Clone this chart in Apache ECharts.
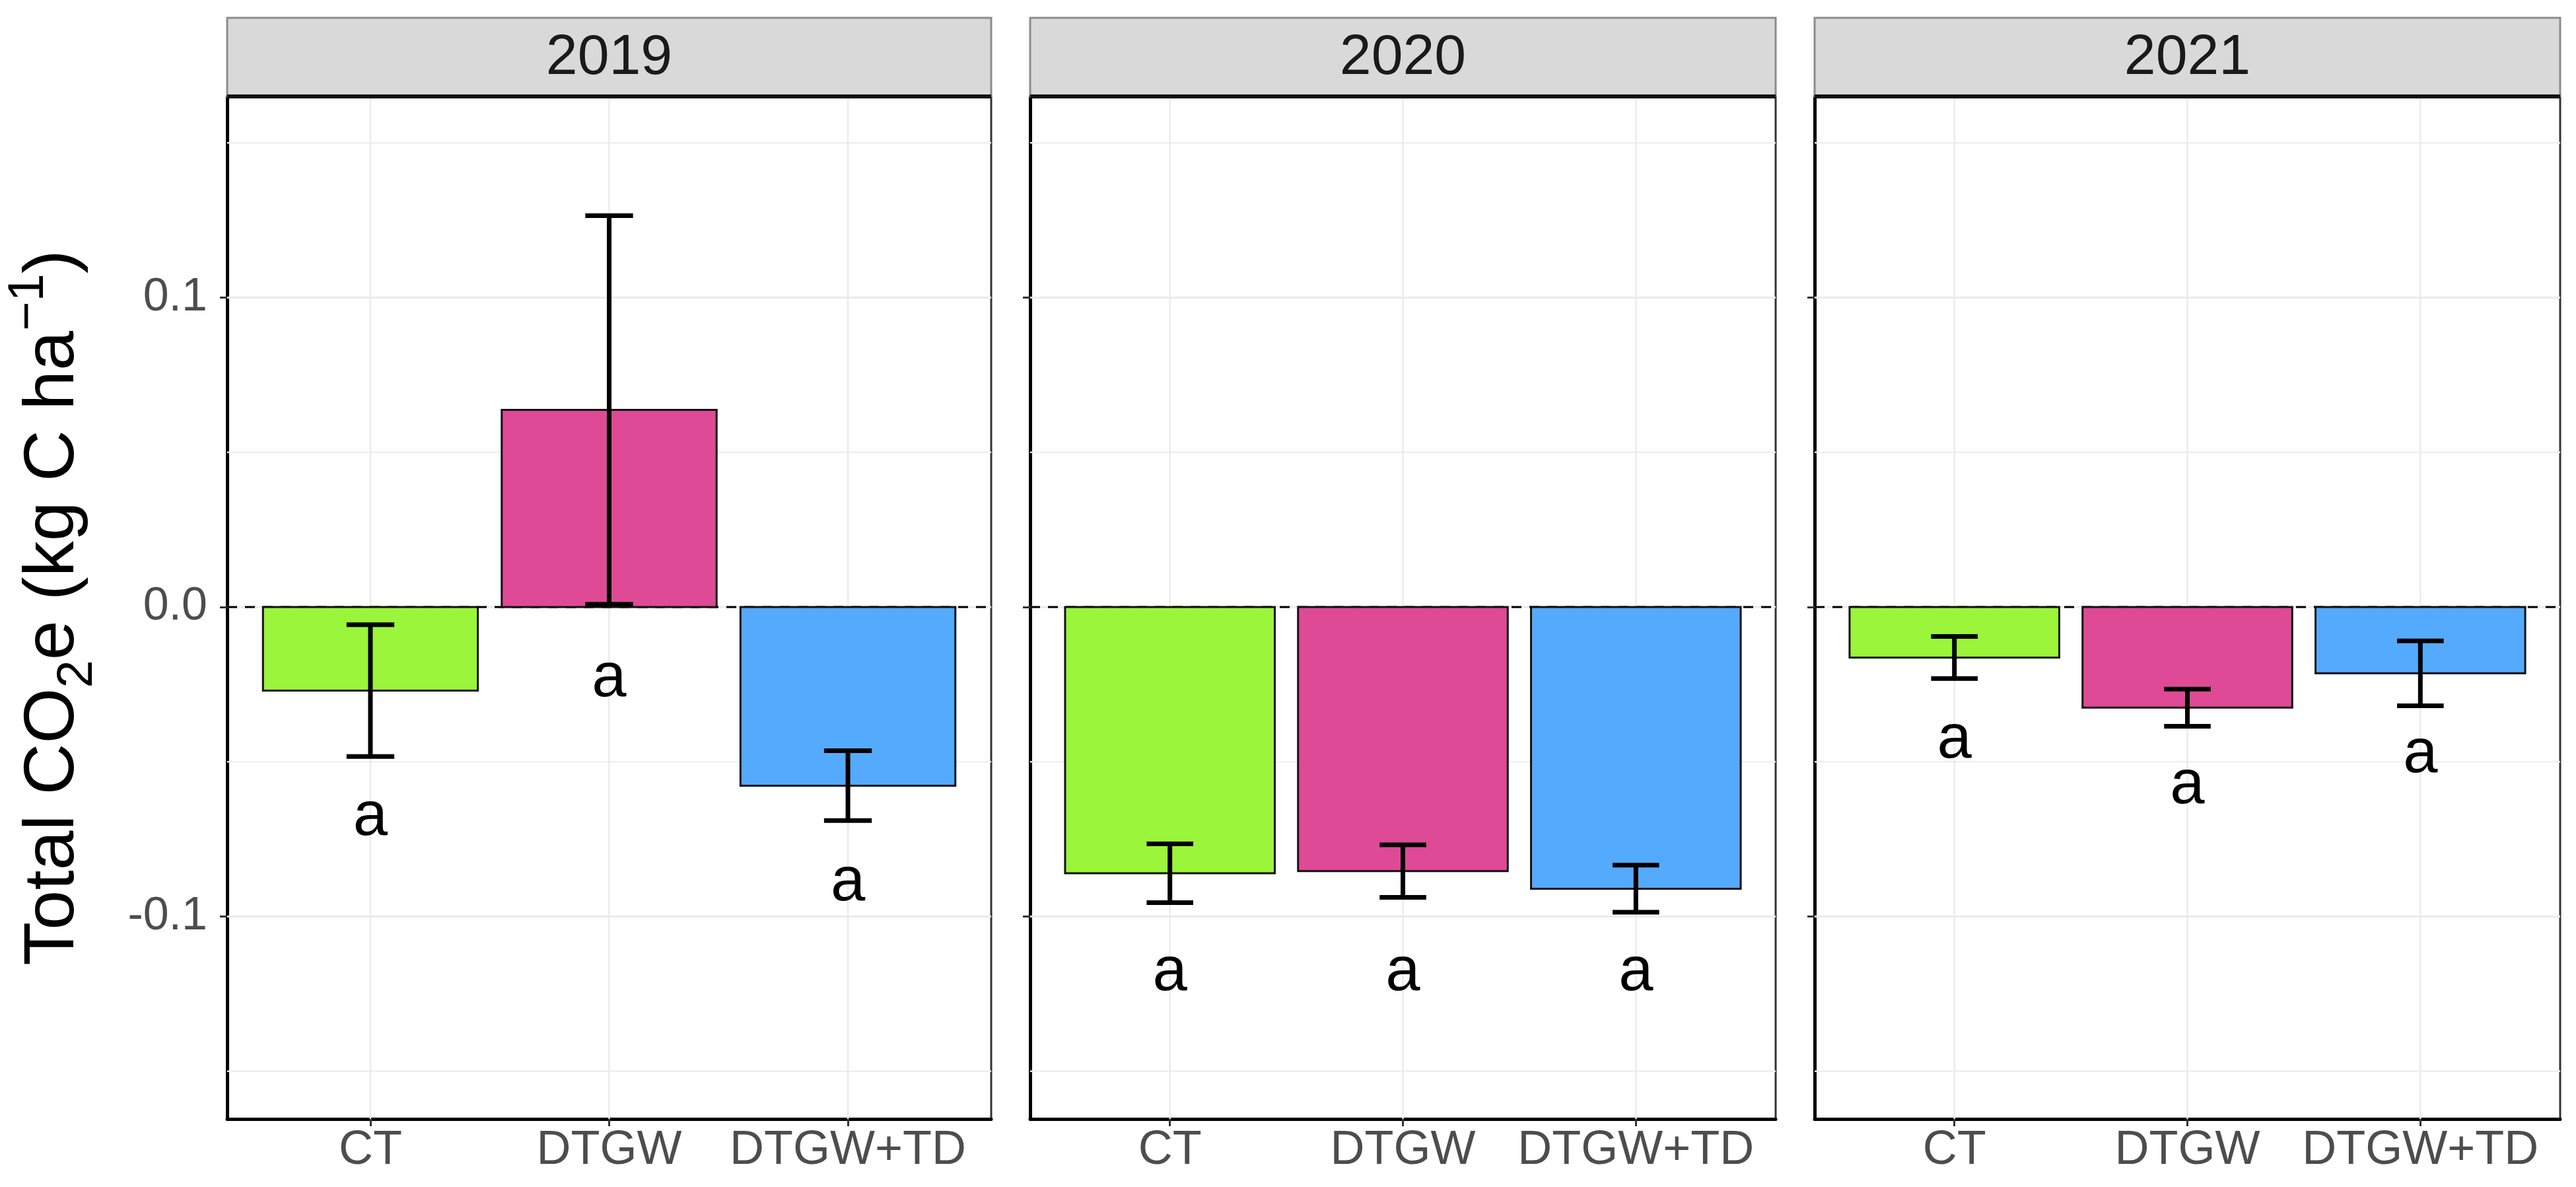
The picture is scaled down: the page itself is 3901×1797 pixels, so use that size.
<!DOCTYPE html>
<html>
<head>
<meta charset="utf-8">
<title>Total CO2e by year</title>
<script src="https://cdn.jsdelivr.net/npm/echarts@6/dist/echarts.min.js"></script>
<style>
  html, body { margin: 0; padding: 0; background: #fff; }
  #main { width: 3901px; height: 1797px; }
</style>
</head>
<body>
<div id="main"></div>
<script>
// facets and treatments
const years = ['2019', '2020', '2021'];
const treatments = ['CT', 'DTGW', 'DTGW+TD'];
const treatmentColors = ['#9BF53A', '#DE4A96', '#54AAFC'];

// mean and standard error, one array per year
const mean2019 = [-0.0270, 0.0637, -0.0577];
const se2019 = [0.0213, 0.0628, 0.0113];
const mean2020 = [-0.0860, -0.0853, -0.0910];
const se2020 = [0.0095, 0.0085, 0.0076];
const mean2021 = [-0.0163, -0.0325, -0.0214];
const se2021 = [0.0068, 0.0060, 0.0105];

// significance letters and where they sit
const letters2019 = ['a', 'a', 'a'];
const letters2020 = ['a', 'a', 'a'];
const letters2021 = ['a', 'a', 'a'];
const letterY2019 = [-0.0698, -0.0250, -0.0909];
const letterY2020 = [-0.1199, -0.1199, -0.1199];
const letterY2021 = [-0.0448, -0.0596, -0.0496];

// axis
const yMin = -0.1654, yMax = 0.1650;
const yTicks = [-0.1, 0, 0.1];
const yMinorTicks = [-0.15, -0.05, 0.05, 0.15];
const xPositions = [1, 2, 3];
const xMin = 0.4, xMax = 3.6;

const means = [mean2019, mean2020, mean2021];
const ses = [se2019, se2020, se2021];
const letters = [letters2019, letters2020, letters2021];
const letterYs = [letterY2019, letterY2020, letterY2021];

// layout (pixels)
const panelLeft = [344, 1560, 2748];
const panelWidth = [1157, 1129, 1129];
const stripTop = 27;
const panelTop = 146;
const panelBottom = 1694;
const FONT = "'Liberation Sans', Arial, sans-serif";
const barWidth = 0.9;
const capWidth = 0.2;

const chart = echarts.init(document.getElementById('main'), null, { renderer: 'canvas' });

function gridLineSeries(i, values, horizontal, style, z) {
  return {
    type: 'custom', xAxisIndex: i, yAxisIndex: i, z: z, silent: true,
    data: values.map(v => [v]),
    renderItem: function (params, api) {
      const v = api.value(0);
      const a = horizontal ? api.coord([xMin, v]) : api.coord([v, yMin]);
      const b = horizontal ? api.coord([xMax, v]) : api.coord([v, yMax]);
      return { type: 'line', shape: { x1: a[0], y1: a[1], x2: b[0], y2: b[1] }, style: style };
    }
  };
}

const grid = [], xAxis = [], yAxis = [], series = [], graphic = [];

years.forEach(function (yr, i) {
  grid.push({
    left: panelLeft[i], top: panelTop, width: panelWidth[i], height: panelBottom - panelTop,
    show: true, borderColor: '#333', borderWidth: 3, backgroundColor: '#fff'
  });
  xAxis.push({
    type: 'value', gridIndex: i, min: xMin, max: xMax,
    axisLine: { show: true, onZero: false, lineStyle: { color: '#000', width: 5 } },
    axisTick: { show: true, customValues: xPositions, length: 11, lineStyle: { color: '#333', width: 3 } },
    axisLabel: {
      show: true, customValues: xPositions, margin: 12,
      formatter: v => treatments[Math.round(v) - 1],
      fontSize: 72, color: '#4D4D4D', fontFamily: FONT
    },
    splitLine: { show: false }
  });
  yAxis.push({
    type: 'value', gridIndex: i, min: yMin, max: yMax,
    axisLine: { show: true, onZero: false, lineStyle: { color: '#000', width: 5 } },
    axisTick: { show: true, customValues: yTicks, length: 11, lineStyle: { color: '#333', width: 3 } },
    axisLabel: {
      show: i === 0, customValues: yTicks, margin: 30,
      formatter: v => v.toFixed(1),
      fontSize: 70, color: '#4D4D4D', fontFamily: FONT
    },
    splitLine: { show: false }
  });

  const gridStyle = { stroke: '#EBEBEB', lineWidth: 3 };
  series.push(gridLineSeries(i, yMinorTicks, true, { stroke: '#EFEFEF', lineWidth: 2.5 }, 1));
  series.push(gridLineSeries(i, yTicks, true, gridStyle, 1));
  series.push(gridLineSeries(i, xPositions, false, { stroke: '#EBEBEB', lineWidth: 2.5 }, 1));
  series.push(gridLineSeries(i, [0], true, { stroke: '#000', lineWidth: 3, lineDash: [15, 12] }, 2));

  // bars
  series.push({
    type: 'custom', xAxisIndex: i, yAxisIndex: i, z: 3,
    data: treatments.map((t, k) => [k + 1, means[i][k]]),
    renderItem: function (params, api) {
      const x = api.value(0), v = api.value(1);
      const p0 = api.coord([x, 0]), p1 = api.coord([x, v]);
      const w = api.size([barWidth, 0])[0];
      return {
        type: 'rect',
        shape: { x: p0[0] - w / 2, y: Math.min(p0[1], p1[1]), width: w, height: Math.abs(p1[1] - p0[1]) },
        style: { fill: treatmentColors[x - 1], stroke: '#111', lineWidth: 3 }
      };
    }
  });

  // error bars
  series.push({
    type: 'custom', xAxisIndex: i, yAxisIndex: i, z: 4,
    data: treatments.map((t, k) => [k + 1, means[i][k] - ses[i][k], means[i][k] + ses[i][k]]),
    renderItem: function (params, api) {
      const x = api.value(0);
      const lo = api.coord([x, api.value(1)]), hi = api.coord([x, api.value(2)]);
      const half = api.size([capWidth, 0])[0] / 2;
      const st = { stroke: '#000', lineWidth: 7 };
      return {
        type: 'group',
        children: [
          { type: 'line', shape: { x1: lo[0], y1: lo[1], x2: hi[0], y2: hi[1] }, style: st },
          { type: 'line', shape: { x1: lo[0] - half, y1: lo[1], x2: lo[0] + half, y2: lo[1] }, style: st },
          { type: 'line', shape: { x1: hi[0] - half, y1: hi[1], x2: hi[0] + half, y2: hi[1] }, style: st }
        ]
      };
    }
  });

  // letters
  series.push({
    type: 'custom', xAxisIndex: i, yAxisIndex: i, z: 5,
    data: treatments.map((t, k) => [k + 1, letterYs[i][k]]),
    renderItem: function (params, api) {
      const p = api.coord([api.value(0), api.value(1)]);
      return {
        type: 'text', x: p[0], y: p[1] - 8,
        style: {
          text: letters[i][params.dataIndex], fontSize: 94, fontFamily: FONT,
          fill: '#000', align: 'center', verticalAlign: 'middle'
        }
      };
    }
  });

  // facet strip
  graphic.push({
    type: 'rect', z: 10,
    shape: { x: panelLeft[i], y: stripTop, width: panelWidth[i], height: panelTop - stripTop },
    style: { fill: '#D9D9D9', stroke: '#8C8C8C', lineWidth: 3 }
  });
  graphic.push({
    type: 'line', z: 11,
    shape: { x1: panelLeft[i], y1: panelTop, x2: panelLeft[i] + panelWidth[i], y2: panelTop },
    style: { stroke: '#111', lineWidth: 6 }
  });
  graphic.push({
    type: 'text', z: 12,
    x: panelLeft[i] + panelWidth[i] / 2, y: (stripTop + panelTop) / 2 + 2,
    style: { text: yr, fontSize: 86, fontFamily: FONT, fill: '#1A1A1A', align: 'center', verticalAlign: 'middle' }
  });
});

// y axis title with subscript and superscript
graphic.push({
  type: 'text', z: 12,
  x: 81, y: (panelTop + panelBottom) / 2,
  rotation: Math.PI / 2,
  style: {
    text: '{m|Total CO}{s|2}{m|e (kg C ha}{p|\u22121}{m|)}',
    align: 'center', verticalAlign: 'middle',
    rich: {
      m: { fontSize: 108, lineHeight: 150, verticalAlign: 'middle', fontFamily: FONT, fill: '#000' },
      s: { fontSize: 76, lineHeight: 76, verticalAlign: 'bottom', fontFamily: FONT, fill: '#000' },
      p: { fontSize: 76, lineHeight: 76, verticalAlign: 'top', fontFamily: FONT, fill: '#000' }
    }
  }
});

chart.setOption({
  animation: false,
  backgroundColor: '#fff',
  grid: grid,
  xAxis: xAxis,
  yAxis: yAxis,
  series: series,
  graphic: graphic
});
</script>
</body>
</html>
